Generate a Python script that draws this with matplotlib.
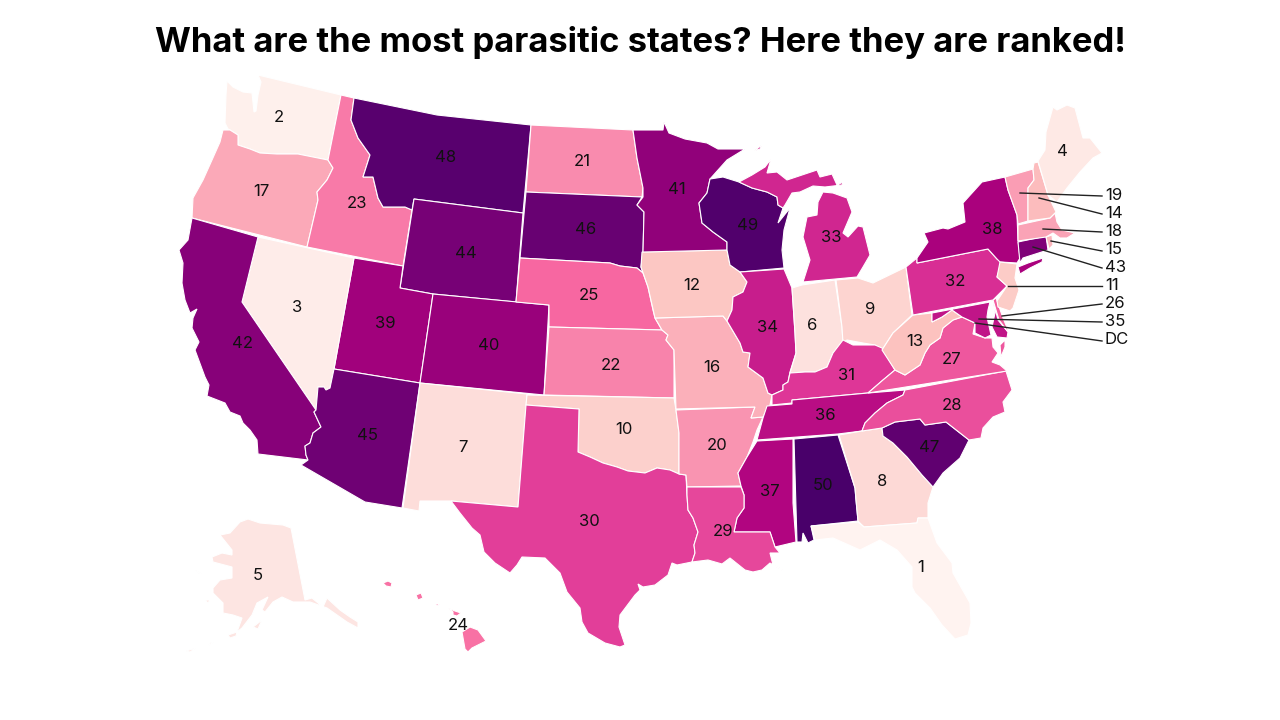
import matplotlib
matplotlib.use("Agg")
import matplotlib.pyplot as plt
from matplotlib.patches import Polygon

plt.rcParams['font.family'] = ['Inter', 'DejaVu Sans']

TITLE = "What are the most parasitic states? Here they are ranked!"

# rank of each state
ranks = {
    'FL': 1, 'WA': 2, 'NV': 3, 'ME': 4, 'AK': 5, 'IN': 6, 'NM': 7, 'GA': 8, 'OH': 9, 'OK': 10,
    'NJ': 11, 'IA': 12, 'WV': 13, 'NH': 14, 'RI': 15, 'MO': 16, 'OR': 17, 'MA': 18, 'VT': 19, 'AR': 20,
    'ND': 21, 'KS': 22, 'ID': 23, 'HI': 24, 'NE': 25, 'DE': 26, 'VA': 27, 'NC': 28, 'LA': 29, 'TX': 30,
    'KY': 31, 'PA': 32, 'MI': 33, 'IL': 34, 'MD': 35, 'TN': 36, 'MS': 37, 'NY': 38, 'UT': 39, 'CO': 40,
    'MN': 41, 'CA': 42, 'CT': 43, 'WY': 44, 'AZ': 45, 'SD': 46, 'SC': 47, 'MT': 48, 'WI': 49, 'AL': 50,
}

# state outlines in pixels
WA = [[(258,75),(341,95),(328,160),(312,157),(298,154),(277,154),(260,153),(250,149),(238,145),(238,135),(230,130),(228,129),(225,123),(226,95),(227,81),(233,87),(243,92),(252,93),(254,112),(256,111),(258,95),(261,82)]]
OR = [[(223,130),(230,130),(238,135),(238,145),(250,149),(260,153),(277,154),(298,154),(328,160),(333,168),(327,180),(317,192),(318,200),(307,247),(192,218),(193,198),(203,180),(212,160),(220,142)]]
ID = [[(341,95),(354,98),(351,120),(358,138),(370,155),(363,177),(373,177),(378,198),(383,207),(405,207),(412,210),(403,266),(307,247),(318,200),(317,192),(327,180),(333,168),(328,160)]]
MT = [[(354,98),(437,115),(531,125),(523,213),(414,199),(412,210),(405,207),(383,207),(378,198),(373,177),(363,177),(370,155),(358,138),(351,120)]]
WY = [[(414,199),(523,213),(516,302),(433,294),(400,288)]]
UT = [[(354,258),(403,266),(400,288),(433,294),(420,383),(334,369)]]
NV = [[(258,237),(354,258),(334,369),(330,388),(326,390),(324,387),(318,387),(316,410),(242,302)]]
CA = [[(192,218),(258,237),(242,302),(316,410),(314,412),(321,427),(313,433),(310,443),(305,446),(306,455),(308,460),(258,454),(257,440),(250,430),(243,423),(240,416),(230,412),(225,403),(207,396),(209,385),(205,377),(195,350),(199,342),(192,328),(193,318),(197,309),(190,313),(185,300),(182,283),(183,263),(179,250),(188,240)]]
AZ = [[(334,369),(420,383),(402,508),(365,502),(301,465),(308,460),(306,455),(305,446),(310,443),(313,433),(321,427),(314,412),(316,410),(318,387),(324,387),(326,390),(330,388)]]
CO = [[(433,294),(549,305),(544,395),(420,383)]]
NM = [[(420,383),(527,394),(518,507),(451,501),(420,501),(419,511),(403,508)]]
ND = [[(531,125),(633,130),(637,158),(643,188),(642,197),(526,192)]]
SD = [[(526,192),(642,197),(637,205),(644,212),(643,252),(641,267),(643,273),(637,268),(620,266),(610,263),(520,258)]]
NE = [[(520,258),(610,263),(620,266),(637,268),(643,273),(648,287),(653,310),(655,318),(662,330),(549,327),(549,305),(516,302)]]
KS = [[(549,327),(662,330),(668,335),(666,340),(674,350),(674,398),(544,395)]]
OK = [[(527,395),(674,398),(676,410),(679,433),(679,474),(670,470),(657,468),(645,473),(628,471),(617,467),(603,463),(590,457),(578,452),(579,409),(526,405)]]
TX = [[(526,405),(579,409),(578,452),(590,457),(603,463),(617,467),(628,471),(645,473),(657,468),(670,470),(679,474),(686,475),(687,495),(688,510),(693,518),(698,532),(694,545),(695,553),(692,562),(677,565),(672,563),(668,575),(655,585),(643,587),(638,584),(640,590),(635,595),(620,615),(619,627),(625,645),(620,647),(605,643),(588,633),(582,622),(580,608),(567,592),(560,573),(545,558),(522,557),(517,565),(510,573),(495,563),(484,552),(480,535),(472,528),(460,513),(451,501),(518,507)]]
AR = [[(676,410),(755,407),(751,418),(763,417),(757,430),(753,442),(747,457),(738,473),(741,486),(687,487),(686,475),(679,474),(679,433)]]
MO = [[(655,318),(723,316),(727,321),(740,343),(743,352),(750,353),(748,367),(763,378),(768,393),(772,395),(770,405),(765,413),(763,417),(751,418),(755,407),(676,409),(674,350),(666,340),(668,335),(662,330)]]
IA = [[(642,252),(727,250),(730,265),(740,272),(747,282),(743,292),(733,297),(732,310),(727,321),(723,316),(655,318),(648,287),(641,267)]]
MN = [[(633,130),(663,130),(664,122),(669,133),(685,139),(707,143),(718,149),(745,149),(727,160),(710,179),(707,193),(699,203),(702,223),(713,232),(727,242),(727,250),(643,252),(644,212),(637,205),(643,197),(643,188),(637,158)]]
WI = [[(710,179),(723,177),(739,182),(752,188),(767,192),(777,197),(778,205),(783,208),(778,223),(790,208),(784,230),(782,250),(784,268),(740,272),(730,265),(727,250),(727,242),(713,232),(702,223),(699,203),(707,193)]]
IL = [[(740,272),(784,269),(792,288),(795,333),(796,353),(790,372),(788,382),(783,385),(783,390),(772,395),(768,393),(763,378),(748,367),(750,353),(743,352),(740,343),(727,321),(732,310),(733,297),(743,292),(747,282)]]
IN = [[(792,288),(802,285),(835,280),(842,327),(843,343),(833,353),(827,367),(815,372),(805,372),(790,373),(796,353),(795,333)]]
OH = [[(836,280),(858,278),(873,283),(906,267),(912,315),(893,333),(882,350),(875,345),(863,343),(847,340),(843,343),(842,327)]]
MI = [[(803,282),(857,277),(863,267),(870,255),(863,227),(858,226),(848,237),(843,233),(852,212),(847,198),(833,193),(823,192),(818,202),(817,215),(807,217),(803,237),(810,260)],
      [(739,182),(752,175),(765,167),(771,159),(767,173),(777,172),(787,180),(802,175),(817,170),(820,177),(832,174),(837,185),(843,182),(842,185),(825,187),(813,186),(800,192),(792,193),(785,205),(783,208),(778,205),(777,197),(767,192),(752,188)],
      [(754,151),(762,145),(760,149)]]
KY = [[(772,395),(783,390),(783,385),(788,382),(790,373),(805,372),(815,372),(827,367),(833,353),(843,340),(853,345),(875,345),(882,348),(895,370),(883,380),(868,393),(792,400),(792,403),(772,405)]]
TN = [[(767,406),(792,404),(792,400),(868,393),(905,390),(903,395),(887,403),(875,413),(865,423),(862,431),(838,434),(757,440),(763,418)]]
MS = [[(757,441),(793,439),(793,503),(796,542),(775,547),(770,532),(734,532),(737,518),(744,508),(744,495),(741,486),(738,473),(747,457)]]
AL = [[(794,439),(838,435),(855,488),(856,500),(858,521),(811,526),(814,540),(808,543),(803,533),(802,542),(797,542)]]
GA = [[(839,435),(862,431),(882,428),(883,436),(893,443),(907,457),(922,475),(933,487),(928,503),(928,518),(918,518),(917,523),(864,527),(858,521),(856,500),(855,488)]]
FL = [[(811,526),(858,522),(864,527),(917,523),(918,518),(928,518),(937,543),(952,563),(953,573),(970,603),(971,623),(968,635),(955,639),(942,625),(930,608),(915,593),(912,587),(912,567),(897,550),(880,540),(860,550),(833,538),(815,540)]]
SC = [[(882,428),(895,422),(920,419),(925,425),(946,422),(969,440),(960,458),(943,473),(933,487),(922,475),(907,457),(893,443),(883,436)]]
NC = [[(905,390),(1006,371),(1012,390),(1003,402),(1005,412),(993,417),(983,428),(981,438),(969,440),(946,422),(925,425),(920,419),(895,422),(882,428),(862,431),(865,423),(875,413),(887,403),(903,395)]]
VA = [[(868,393),(1007,371),(1000,365),(992,362),(998,353),(993,347),(992,338),(985,338),(973,334),(975,323),(962,317),(953,320),(943,328),(940,338),(930,345),(925,353),(920,365),(905,375),(895,370),(883,380)],
      [(1005,340),(1000,345),(1001,357),(1005,347)]]
WV = [[(913,315),(932,313),(932,322),(942,317),(952,310),(962,317),(953,320),(943,328),(940,338),(930,345),(925,353),(920,365),(905,375),(895,370),(882,350),(893,333)]]
MD = [[(932,313),(990,302),(988,310),(987,317),(991,335),(985,338),(975,333),(975,323),(962,317),(952,310),(942,317),(932,322)],
      [(993,300),(998,320),(1008,332),(1007,338),(997,337),(992,327),(995,313)]]
DE = [[(993,300),(996,298),(1003,318),(1008,330),(1008,332),(999,320)]]
PA = [[(906,267),(917,258),(917,263),(988,249),(997,259),(1002,262),(997,277),(1007,286),(993,300),(913,315)]]
NY = [[(924,233),(943,228),(948,229),(965,222),(963,203),(982,182),(1005,177),(1008,190),(1017,215),(1018,240),(1020,258),(1017,263),(1000,262),(997,259),(988,249),(917,263),(917,258),(928,242)],
      [(1018,267),(1028,263),(1043,258),(1042,262),(1030,268),(1020,274)]]
NJ = [[(1000,262),(1017,264),(1015,278),(1019,290),(1013,308),(1010,311),(998,307),(997,301),(1007,286),(997,277)]]
CT = [[(1018,242),(1046,236),(1048,250),(1023,258),(1020,263)]]
RI = [[(1046,237),(1052,235),(1053,245),(1049,249)]]
MA = [[(1018,225),(1050,218),(1055,213),(1057,222),(1062,230),(1075,233),(1067,238),(1060,238),(1053,233),(1046,237),(1018,241)]]
VT = [[(1005,177),(1033,169),(1034,180),(1028,188),(1028,221),(1018,224),(1017,215),(1008,190)]]
NH = [[(1034,163),(1038,162),(1048,195),(1056,212),(1050,218),(1028,221),(1028,188),(1034,180),(1033,169)]]
ME = [[(1038,161),(1045,150),(1046,132),(1053,107),(1057,110),(1067,105),(1075,108),(1083,138),(1090,138),(1102,153),(1093,158),(1080,172),(1067,188),(1057,202),(1048,195)]]
LA = [[(687,487),(741,487),(744,495),(744,508),(737,518),(734,532),(770,532),(775,547),(780,553),(770,553),(773,565),(778,567),(785,572),(770,563),(762,570),(753,572),(745,570),(730,558),(722,564),(708,560),(692,562),(695,553),(694,545),(698,532),(693,518),(688,510),(687,495)]]
AK = [[(291,528),(305,600),(312,598),(323,607),(327,598),(340,610),(350,617),(358,622),(358,628),(347,622),(337,615),(327,608),(310,602),(293,602),(282,597),(273,602),(265,612),(262,610),(268,597),(257,603),(252,615),(242,628),(237,632),(242,618),(233,615),(223,613),(223,603),(213,593),(213,588),(220,580),(232,578),(232,567),(213,562),(212,557),(222,553),(232,555),(232,550),(220,535),(230,533),(240,522),(248,519),(260,523),(283,525)],
      [(228,635),(237,632),(236,636),(230,638)],
      [(253,627),(262,620),(258,629)],
      [(205,600),(210,600),(208,603)],
      [(195,570),(202,574),(198,573)],
      [(210,643),(214,642),(208,646)],
      [(186,651),(196,648),(190,652)]]
HI = [[(383,583),(388,581),(392,583),(391,587),(386,586)],
      [(416,595),(421,593),(423,598),(418,600)],
      [(435,604),(440,604),(437,606)],
      [(448,608),(455,611),(461,613),(457,616),(453,615),(453,612)],
      [(462,632),(470,627),(478,630),(486,641),(472,648),(468,652),(465,649)]]

shapes = {
    'WA': WA, 'OR': OR, 'ID': ID, 'MT': MT, 'WY': WY, 'UT': UT, 'NV': NV, 'CA': CA, 'AZ': AZ, 'CO': CO,
    'NM': NM, 'ND': ND, 'SD': SD, 'NE': NE, 'KS': KS, 'OK': OK, 'TX': TX, 'AR': AR, 'MO': MO, 'IA': IA,
    'MN': MN, 'WI': WI, 'IL': IL, 'IN': IN, 'OH': OH, 'MI': MI, 'KY': KY, 'TN': TN, 'MS': MS, 'AL': AL,
    'GA': GA, 'FL': FL, 'SC': SC, 'NC': NC, 'VA': VA, 'WV': WV, 'MD': MD, 'DE': DE, 'PA': PA, 'NY': NY,
    'NJ': NJ, 'CT': CT, 'RI': RI, 'MA': MA, 'VT': VT, 'NH': NH, 'ME': ME, 'LA': LA, 'AK': AK, 'HI': HI,
}

# rank labels sitting on the states
label_pos = {
    'WA': (279,118), 'OR': (261,192), 'ID': (357,204), 'MT': (446,158), 'WY': (466,253), 'ND': (582,162),
    'SD': (586,230), 'MN': (677,190), 'WI': (748,225), 'MI': (831,238), 'NY': (992,229), 'ME': (1062,152),
    'NV': (297,308), 'CA': (243,343), 'UT': (385,324), 'CO': (489,345), 'AZ': (367,436), 'NM': (463,448),
    'NE': (589,295), 'KS': (611,365), 'IA': (692,285), 'IL': (768,327), 'IN': (812,325), 'OH': (870,309),
    'MO': (712,367), 'OK': (624,430), 'AR': (717,445), 'KY': (847,376), 'TN': (825,416), 'MS': (770,491),
    'AL': (823,485), 'GA': (882,482), 'SC': (929,447), 'NC': (952,405), 'VA': (952,360), 'WV': (915,341),
    'PA': (955,282), 'TX': (589,522), 'LA': (723,531), 'FL': (921,567), 'AK': (258,575), 'HI': (458,626),
}

# labels beside the map with their leader lines
side_labels = ['19', '14', '18', '15', '43', '11', '26', '35', 'DC']
side_y = [196, 214, 232, 250, 268, 286, 304, 322, 340]
leader_start = [(1020,193),(1039,198),(1043,229),(1051,241),(1033,247),(1008,286),(1002,316),(979,319),(975,323)]
leader_end = [(1102,196),(1102,214),(1102,232),(1102,251),(1102,268),(1102,286),(1102,304),(1102,322),(1102,341)]

fig = plt.figure(figsize=(12.8, 7.2), dpi=100)
ax = fig.add_axes([0, 0, 1, 1])
ax.set_xlim(0, 1280)
ax.set_ylim(720, 0)
ax.axis('off')

cmap = plt.get_cmap('RdPu')
for state, parts in shapes.items():
    color = cmap(ranks[state] / 50)
    for part in parts:
        ax.add_patch(Polygon(part, closed=True, facecolor=color, edgecolor='white', linewidth=0.8, zorder=2))

for state, (x, y) in label_pos.items():
    ax.text(x, y, str(ranks[state]), fontsize=12, color='#111111', ha='center', va='center', zorder=4)

for label, y, start, end in zip(side_labels, side_y, leader_start, leader_end):
    ax.plot([start[0], end[0]], [start[1], end[1]], color='#222222', linewidth=1, zorder=3)
    ax.text(1105, y, label, fontsize=12, color='#111111', ha='left', va='center', zorder=4)

ax.text(640.5, 42.5, TITLE, fontsize=24.9, fontweight='bold', color='black', ha='center', va='center')

fig.savefig('out.png', dpi=100)
